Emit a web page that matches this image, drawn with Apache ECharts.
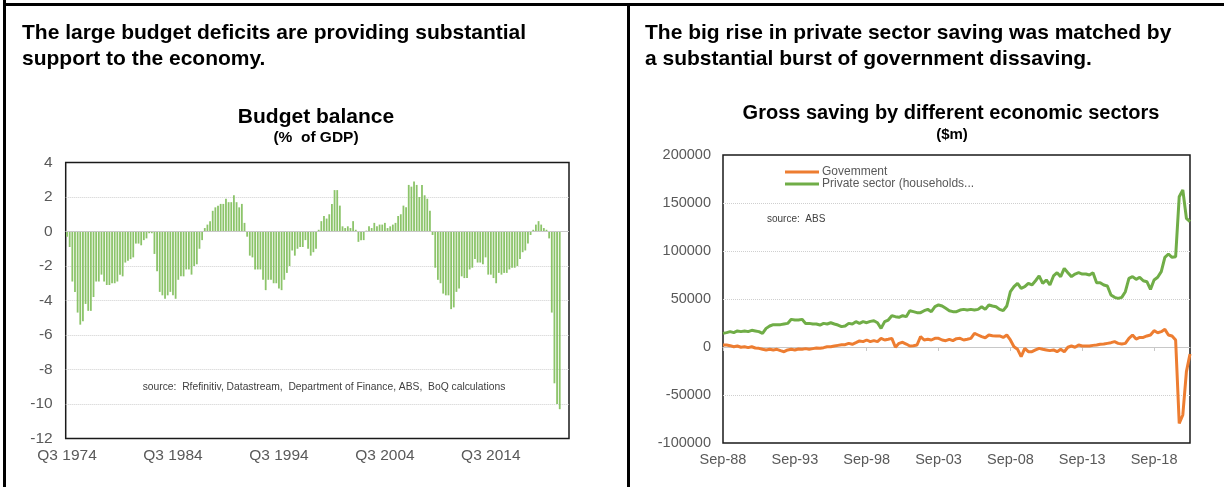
<!DOCTYPE html>
<html>
<head>
<meta charset="utf-8">
<script src="https://cdn.jsdelivr.net/npm/echarts@6/dist/echarts.min.js"></script>
<style>
  html, body { margin: 0; padding: 0; background: #fff; }
  #main { width: 1224px; height: 487px; }
</style>
</head>
<body>
<div id="main"></div>
<script>
// budget balance, % of GDP, quarterly from Q3 1974
var budgetBalance = [
    -0.3, -0.9, -2.9, -3.5, -4.7, -5.4, -5.2, -4.2, -4.6, -4.6,
    -3.8, -2.9, -2.9, -2.5, -2.9, -3.1, -3.1, -3.0, -3.0, -2.9,
    -2.5, -2.6, -1.8, -1.7, -1.6, -1.5, -0.7, -0.7, -0.8, -0.5,
    -0.4, -0.1, -0.1, -1.3, -2.3, -3.5, -3.7, -3.9, -3.7, -3.5,
    -3.7, -3.9, -2.8, -2.6, -2.6, -2.2, -2.2, -2.5, -2.0, -1.9,
    -1.0, -0.5, 0.2, 0.4, 0.6, 1.2, 1.4, 1.5, 1.6, 1.6,
    1.9, 1.7, 1.7, 2.1, 1.7, 1.4, 1.6, 0.5, -0.3, -1.4,
    -1.5, -2.2, -2.2, -2.2, -2.8, -3.4, -2.8, -2.8, -3.0, -3.0,
    -3.3, -3.4, -2.8, -2.4, -2.0, -1.1, -1.4, -1.0, -0.9, -0.9,
    -0.5, -1.0, -1.4, -1.2, -1.0, 0.1, 0.6, 0.9, 0.75, 1.0,
    1.6, 2.4, 2.4, 1.5, 0.3, 0.2, 0.3, 0.2, 0.6, 0.1,
    -0.6, -0.5, -0.5, 0.05, 0.3, 0.2, 0.5, 0.3, 0.4, 0.4,
    0.5, 0.2, 0.3, 0.4, 0.5, 0.9, 1.0, 1.5, 1.4, 2.7,
    2.6, 2.9, 2.7, 2.0, 2.7, 2.1, 1.9, 1.2, -0.2, -2.1,
    -2.8, -3.0, -3.6, -3.7, -3.7, -4.5, -4.4, -3.5, -3.3, -2.6,
    -2.7, -2.7, -2.2, -2.1, -1.6, -1.8, -1.8, -1.9, -1.5, -2.5,
    -2.5, -2.7, -3.0, -2.4, -2.5, -2.4, -2.4, -2.2, -2.1, -2.1,
    -2.0, -1.6, -1.2, -1.1, -0.7, -0.2, 0.1, 0.4, 0.6, 0.4,
    0.2, 0.1, -0.4, -4.7, -8.8, -10.0, -10.3
];

// gross saving $m, quarterly from Sep-88 to Mar-21
var government = [
    2100, 2100, 1400, 300, 1000, -300, 300, -700, 300, -1000,
    -1400, -2400, -3100, -2400, -3100, -2400, -3800, -4900, -3100, -2400,
    -3100, -2100, -2400, -1700, -2400, -1700, -1000, -1400, -700, 300,
    300, 1000, 1700, 2400, 2400, 3800, 2800, 4500, 6300, 5600,
    7300, 5600, 6600, 5600, 9000, 7300, 8000, 9000, -300, 3800,
    4900, 3100, 1000, 1400, 2100, 10800, 7300, 8000, 7300, 9000,
    9000, 7300, 6600, 8000, 6600, 8700, 9000, 7300, 8000, 9000,
    14200, 12500, 10800, 9700, 12500, 11800, 11500, 11500, 10000, 12500,
    7300, 300, -2400, -10000, -1400, -4900, -4900, -3100, -1400, -2400,
    -3100, -3800, -3100, -4900, -2400, -4900, -300, 1000, -300, 2100,
    1000, 1000, 1000, 1700, 2100, 2800, 3100, 3800, 4500, 5600,
    3800, 3100, 3800, 9000, 12500, 8300, 10000, 10000, 11500, 12500,
    17000, 14900, 16000, 18400, 12500, 11500, 7300, -79500, -70800, -25700,
    -7300
];
var privateSector = [
    14200, 15000, 16000, 15000, 16700, 16000, 16700, 16000, 17400, 16700,
    16000, 14200, 19400, 21900, 23300, 23300, 23300, 24000, 24600, 28800,
    28100, 28100, 28800, 24600, 24600, 24000, 24000, 22900, 24600, 24000,
    25300, 24000, 22900, 21200, 21900, 24600, 24000, 26400, 24600, 26400,
    25300, 26700, 27400, 25300, 19400, 26400, 28100, 32600, 31600, 30900,
    32600, 31600, 37800, 36800, 35800, 35800, 37800, 39200, 36800, 42000,
    43800, 42700, 40300, 37800, 36800, 36800, 38500, 39200, 38500, 39200,
    38500, 39200, 42000, 39200, 43800, 42700, 42000, 39200, 37800, 42700,
    57600, 62800, 66300, 61100, 62800, 66300, 64600, 69000, 74000, 66300,
    69800, 64600, 74000, 77400, 73300, 81900, 77400, 73300, 76000, 77400,
    76000, 76000, 75000, 77400, 67000, 67000, 64600, 63500, 54200, 51700,
    50700, 51700, 57600, 71500, 73300, 70500, 72600, 69000, 68000, 60000,
    69800, 72600, 78500, 93400, 96900, 93400, 94000, 156600, 163500, 134000,
    130500
];

var budgetYTicks = [-12, -10, -8, -6, -4, -2, 0, 2, 4];
var savingYTicks = [-100000, -50000, 0, 50000, 100000, 150000, 200000];

// quarter labels
var quarterCats = [];
for (var y = 1974, q = 3; quarterCats.length < 190; ) {
    quarterCats.push('Q' + q + ' ' + y);
    q++;
    if (q > 4) { q = 1; y++; }
}
var monthNames = ['Mar', 'Jun', 'Sep', 'Dec'];
var savingCats = [];
for (var yy = 1988, m = 2; savingCats.length < government.length; ) {
    savingCats.push(monthNames[m] + '-' + String(yy % 100).padStart(2, '0'));
    m++;
    if (m > 3) { m = 0; yy++; }
}

var leftFont = { color: '#595959', fontSize: 15.5, fontFamily: 'Arial' };
var rightFont = { color: '#595959', fontSize: 14.5, fontFamily: 'Arial' };
var plain = function (v) { return String(v); };

var chart = echarts.init(document.getElementById('main'));
var option = {
    backgroundColor: '#fff',
    animation: false,
    graphic: [
        { type: 'rect', shape: { x: 3, y: 0, width: 3, height: 487 }, style: { fill: '#000' } },
        { type: 'rect', shape: { x: 3, y: 3, width: 1221, height: 3 }, style: { fill: '#000' } },
        { type: 'rect', shape: { x: 627, y: 3, width: 3, height: 484 }, style: { fill: '#000' } },
        { type: 'text', x: 22, y: 33, style: { text: 'The large budget deficits are providing substantial', font: 'bold 21px Arial', fill: '#000', textVerticalAlign: 'middle' } },
        { type: 'text', x: 22, y: 59, style: { text: 'support to the economy.', font: 'bold 21px Arial', fill: '#000', textVerticalAlign: 'middle' } },
        { type: 'text', x: 645, y: 33, style: { text: 'The big rise in private sector saving was matched by', font: 'bold 21px Arial', fill: '#000', textVerticalAlign: 'middle' } },
        { type: 'text', x: 645, y: 59, style: { text: 'a substantial burst of government dissaving.', font: 'bold 21px Arial', fill: '#000', textVerticalAlign: 'middle' } },
        { type: 'text', x: 316, y: 117, style: { text: 'Budget balance', font: 'bold 21px Arial', fill: '#000', textAlign: 'center', textVerticalAlign: 'middle' } },
        { type: 'text', x: 316, y: 138, style: { text: '(%  of GDP)', font: 'bold 15.5px Arial', fill: '#000', textAlign: 'center', textVerticalAlign: 'middle' } },
        { type: 'text', x: 951, y: 113, style: { text: 'Gross saving by different economic sectors', font: 'bold 20px Arial', fill: '#000', textAlign: 'center', textVerticalAlign: 'middle' } },
        { type: 'text', x: 952, y: 135, style: { text: '($m)', font: 'bold 15px Arial', fill: '#000', textAlign: 'center', textVerticalAlign: 'middle' } },
        { type: 'text', x: 324, y: 387, style: { text: 'source:  Rfefinitiv, Datastream,  Department of Finance, ABS,  BoQ calculations', font: '10.3px Arial', fill: '#404040', textAlign: 'center', textVerticalAlign: 'middle' } },
        { type: 'text', x: 767, y: 219, style: { text: 'source:  ABS', font: '10px Arial', fill: '#404040', textVerticalAlign: 'middle' } }
    ],
    legend: {
        data: ['Govemment', 'Private sector (households...'],
        orient: 'vertical',
        left: 785,
        top: 166,
        padding: 0,
        itemGap: 0,
        itemWidth: 34,
        itemHeight: 3,
        icon: 'rect',
        textStyle: { color: '#595959', fontSize: 12, fontFamily: 'Arial', lineHeight: 12, padding: [0, 0, 0, -2] }
    },
    grid: [
        { left: 65.7, right: 655, top: 162.5, bottom: 48.5, show: true, borderColor: '#1a1a1a', borderWidth: 1.5, backgroundColor: '#fff' },
        { left: 723, right: 34, top: 155, bottom: 44, show: true, borderColor: '#1a1a1a', borderWidth: 1.5, backgroundColor: '#fff' }
    ],
    xAxis: [
        {
            type: 'category', gridIndex: 0, data: quarterCats, boundaryGap: true,
            axisLine: { show: false, onZero: false }, axisTick: { show: false },
            axisLabel: Object.assign({ interval: 39, margin: 9 }, leftFont)
        },
        {
            type: 'category', gridIndex: 1, data: savingCats, boundaryGap: false,
            axisLine: { show: true, onZero: true, lineStyle: { color: '#c8c8c8', width: 1 } },
            axisTick: { show: true, interval: 19, length: 4, lineStyle: { color: '#c8c8c8' } },
            axisLabel: { show: false }
        },
        {
            type: 'category', gridIndex: 1, data: savingCats, boundaryGap: false, position: 'bottom',
            axisLine: { show: false, onZero: false }, axisTick: { show: false },
            axisLabel: Object.assign({ interval: 19, margin: 9 }, rightFont)
        }
    ],
    yAxis: [
        {
            type: 'value', gridIndex: 0, min: -12, max: 4, interval: 2,
            axisLine: { show: false }, axisTick: { show: false },
            axisLabel: Object.assign({ margin: 13, customValues: budgetYTicks }, leftFont),
            splitLine: { showMinLine: false, showMaxLine: false, lineStyle: { color: '#cfcfcf', type: 'dotted' } }
        },
        {
            type: 'value', gridIndex: 1, min: -100000, max: 200000, interval: 50000,
            axisLine: { show: false }, axisTick: { show: false },
            axisLabel: Object.assign({ margin: 12, customValues: savingYTicks, formatter: plain }, rightFont),
            splitLine: { showMinLine: false, showMaxLine: false, lineStyle: { color: '#cfcfcf', type: 'dotted' } }
        }
    ],
    series: [
        {
            name: 'Budget balance', type: 'bar', xAxisIndex: 0, yAxisIndex: 0,
            data: budgetBalance, barWidth: 1.8,
            itemStyle: { color: '#8cc46a' },
            markLine: {
                silent: true, symbol: 'none', label: { show: false },
                lineStyle: { color: '#c8c8c8', type: 'solid', width: 1 },
                data: [{ yAxis: 0 }]
            }
        },
        {
            name: 'Govemment', type: 'line', xAxisIndex: 1, yAxisIndex: 1,
            data: government, symbol: 'none',
            lineStyle: { color: '#ed7d31', width: 3 }, itemStyle: { color: '#ed7d31' }
        },
        {
            name: 'Private sector (households...', type: 'line', xAxisIndex: 1, yAxisIndex: 1,
            data: privateSector, symbol: 'none',
            lineStyle: { color: '#70ad47', width: 3 }, itemStyle: { color: '#70ad47' }
        }
    ]
};
chart.setOption(option);
</script>
</body>
</html>
